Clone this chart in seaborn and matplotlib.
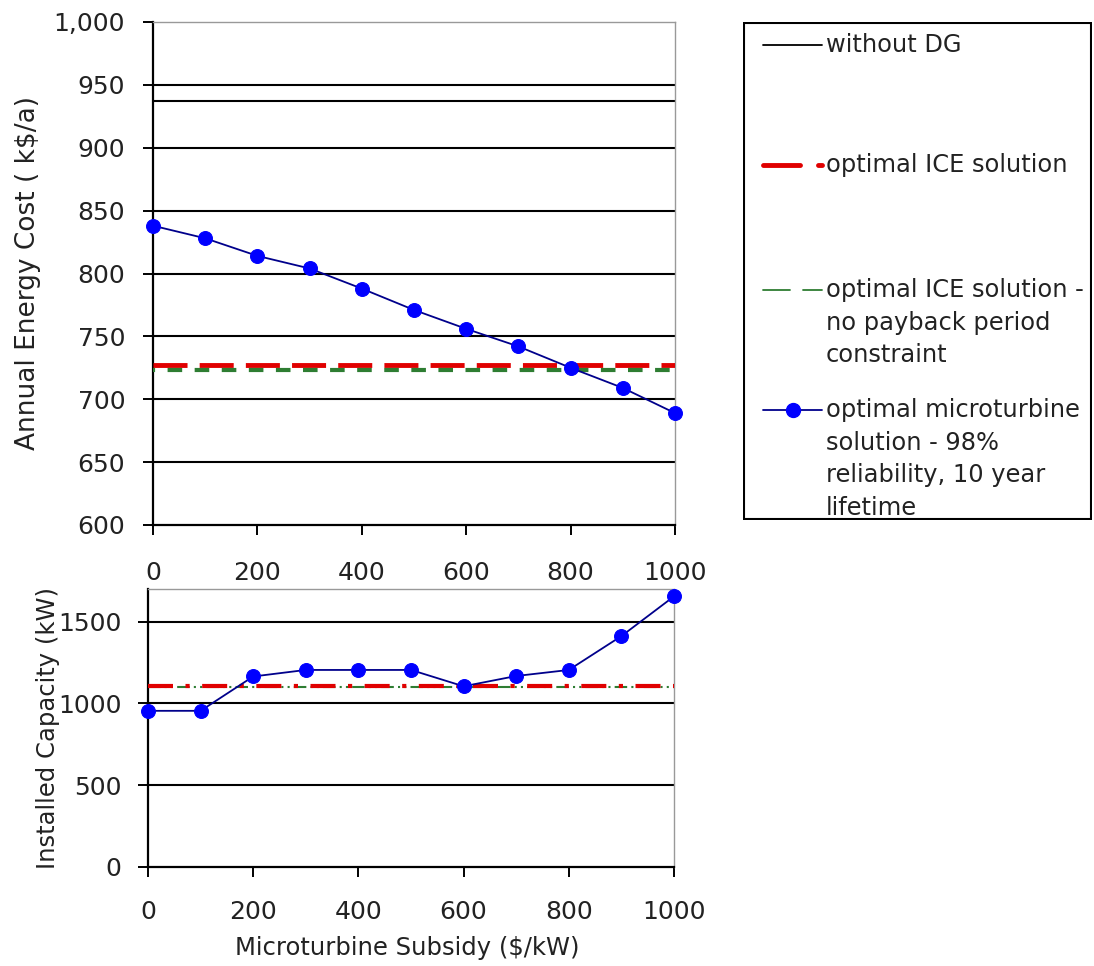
import numpy as np
import pandas as pd
import matplotlib
matplotlib.use("Agg")
import matplotlib.pyplot as plt
import matplotlib.ticker as mticker
from matplotlib.lines import Line2D
from matplotlib.patches import Rectangle
import seaborn as sns

# Data
subsidy = [0, 100, 200, 300, 400, 500, 600, 700, 800, 900, 1000]
cost_microturbine = [838, 828, 814, 804, 788, 771, 756, 742, 725, 709, 689]
capacity_microturbine = [955, 955, 1165, 1205, 1205, 1205, 1105, 1168, 1205, 1412, 1655]

cost_without_dg = 937
cost_ice = 727
cost_ice_no_payback = 723
capacity_ice = 1105
capacity_ice_no_payback = 1100

legend_labels = [
    "without DG",
    "optimal ICE solution",
    "optimal ICE solution -\nno payback period\nconstraint",
    "optimal microturbine\nsolution - 98%\nreliability, 10 year\nlifetime",
]

df = pd.DataFrame({"subsidy": subsidy,
                   "cost": cost_microturbine,
                   "capacity": capacity_microturbine})

sns.set_style("white")
plt.rcParams["font.family"] = ["DejaVu Sans"]
plt.rcParams["font.size"] = 17

W, H = 1094, 966
fig = plt.figure(figsize=(W / 100, H / 100), dpi=100)

def fig_rect(l, t, r, b):
    return [l / W, 1 - b / H, (r - l) / W, (b - t) / H]

blue_line = "#00008B"
blue_mark = "#0000FF"
red = "#E00000"
green = "#2E7D32"
txt = "#222222"

def style_axes(ax):
    ax.tick_params(axis="both", direction="out", length=7, width=1.4, labelsize=18,
                   left=True, bottom=True, colors="black", labelcolor=txt)
    for s in ["left", "bottom"]:
        ax.spines[s].set_color("black")
        ax.spines[s].set_linewidth(1.6)
    for s in ["top", "right"]:
        ax.spines[s].set_color("#999999")
        ax.spines[s].set_linewidth(1)

# ---- top panel: annual energy cost
ax1 = fig.add_axes(fig_rect(153, 22, 675, 525))
for v in range(650, 1000, 50):
    ax1.axhline(v, color="black", lw=1.5, zorder=1)
ax1.axhline(cost_without_dg, color="black", lw=1.5, zorder=2)
ax1.axhline(cost_ice, color=red, lw=3.5, linestyle=(0, (7, 2.5)), zorder=3)
ax1.axhline(cost_ice_no_payback, color=green, lw=3, linestyle=(3, (3.5, 3)), zorder=3)
sns.lineplot(data=df, x="subsidy", y="cost", ax=ax1, color=blue_line, lw=1.3,
             marker="o", markersize=10, markerfacecolor=blue_mark,
             markeredgecolor=blue_mark, zorder=5, clip_on=False)
ax1.set_xlim(0, 1000)
ax1.set_ylim(600, 1000)
ax1.set_xticks(range(0, 1001, 200))
ax1.set_yticks(range(600, 1001, 50))
ax1.yaxis.set_major_formatter(mticker.StrMethodFormatter("{x:,.0f}"))
ax1.set_xlabel("")
ax1.set_ylabel("Annual Energy Cost ( k$/a)", fontsize=19, color=txt, va="center")
ax1.yaxis.set_label_coords(-0.239, 0.5)
style_axes(ax1)
ax1.tick_params(axis="x", pad=19)
ax1.tick_params(axis="y", pad=13)

# ---- bottom panel: installed capacity
ax2 = fig.add_axes(fig_rect(148, 589, 674, 867))
for v in [500, 1000, 1500]:
    ax2.axhline(v, color="black", lw=1.5, zorder=1)
ax2.axhline(capacity_ice, color=red, lw=3, linestyle=(0, (6, 3, 1, 3)), zorder=3)
ax2.axhline(capacity_ice_no_payback, color=green, lw=1.5,
            linestyle=(0, (6, 2, 1, 2, 1, 2)), zorder=2)
sns.lineplot(data=df, x="subsidy", y="capacity", ax=ax2, color=blue_line, lw=1.3,
             marker="o", markersize=10, markerfacecolor=blue_mark,
             markeredgecolor=blue_mark, zorder=5, clip_on=False)
ax2.set_xlim(0, 1000)
ax2.set_ylim(0, 1700)
ax2.set_xticks(range(0, 1001, 200))
ax2.set_yticks([0, 500, 1000, 1500])
ax2.set_xlabel("Microturbine Subsidy ($/kW)", fontsize=17.5, color=txt, va="center")
ax2.xaxis.set_label_coords(0.493, -0.292)
ax2.set_ylabel("Installed Capacity (kW)", fontsize=17.5, color=txt, va="center")
ax2.yaxis.set_label_coords(-0.19, 0.5)
style_axes(ax2)
ax2.tick_params(axis="x", pad=17)
ax2.tick_params(axis="y", pad=12)

# ---- legend box (Excel style: handle aligned with first text line)
axl = fig.add_axes(fig_rect(743, 22, 1092, 520))
axl.set_xlim(743, 1092)
axl.set_ylim(520, 22)
axl.axis("off")
axl.add_patch(Rectangle((744, 23), 347, 496, fill=False, ec="black", lw=1.5))
rows = [45, 165, 290, 410]
handles = [
    dict(color="black", lw=1.3, segs=[(763, 822)]),
    dict(color=red, lw=3.5, segs=[(763, 800), (818, 822)]),
    dict(color=green, lw=1.3, segs=[(763, 790), (803, 822)]),
    dict(color=blue_line, lw=1.3, segs=[(763, 822)]),
]
for y, h, lab in zip(rows, handles, legend_labels):
    for a, b in h["segs"]:
        axl.add_line(Line2D([a, b], [y, y], color=h["color"], lw=h["lw"]))
    axl.text(826, y - 12, lab, fontsize=17.4, va="top", ha="left",
             linespacing=1.45, color=txt)
axl.add_line(Line2D([793], [rows[3]], marker="o", markersize=10,
                    color=blue_mark, lw=0))

fig.savefig("out.png", dpi=100)
